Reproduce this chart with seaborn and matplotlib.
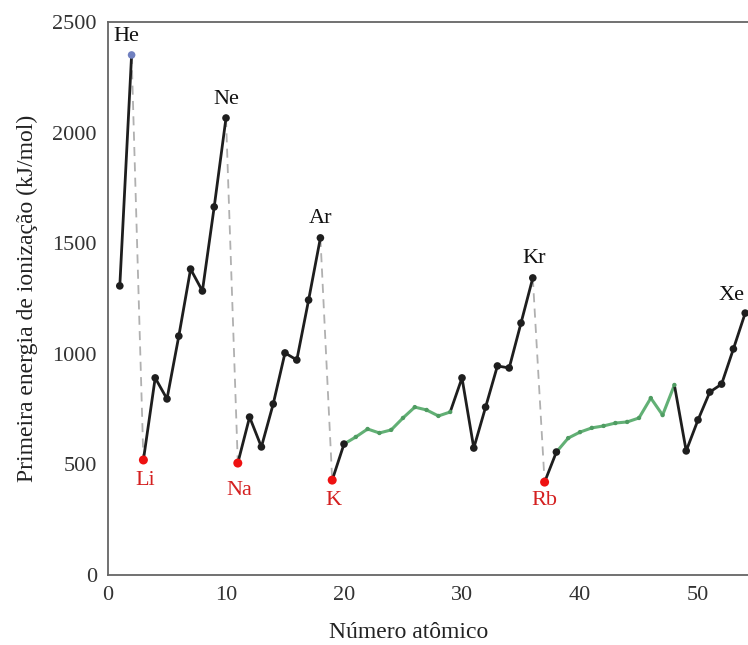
import matplotlib
matplotlib.use("Agg")
import matplotlib.pyplot as plt
import seaborn as sns
import pandas as pd

# ---------------- data ----------------
atomic_number = list(range(1, 55))
energy = [1307, 2351, 520, 891, 796, 1080, 1383, 1284, 1664, 2066,
          506, 714, 579, 773, 1004, 972, 1243, 1524, 429, 592,
          624, 660, 642, 656, 710, 759, 746, 719, 737, 891,
          574, 759, 945, 936, 1139, 1343, 420, 556, 619, 646,
          665, 674, 687, 692, 710, 800, 723, 859, 561, 701,
          827, 863, 1022, 1184]
noble_labels = {2: "He", 10: "Ne", 18: "Ar", 36: "Kr", 54: "Xe"}
alkali_labels = {3: "Li", 11: "Na", 19: "K", 37: "Rb"}
transition_Z = list(range(21, 30)) + list(range(39, 49))
x_ticks = [0, 10, 20, 30, 40, 50]
y_ticks = [0, 500, 1000, 1500, 2000, 2500]
x_label = "Número atômico"
y_label = "Primeira energia de ionização (kJ/mol)"

solid_ranges = [(1, 2), (3, 10), (11, 18), (19, 20), (29, 36), (37, 38), (48, 54)]
green_ranges = [(20, 29), (38, 48)]
dashed_ranges = [(2, 3), (10, 11), (18, 19), (36, 37)]

df = pd.DataFrame({"Z": atomic_number, "E": energy})

def kind(z):
    if z in alkali_labels:
        return "alkali"
    if z == 2:
        return "He"
    if z in transition_Z:
        return "trans"
    return "main"

df["kind"] = df["Z"].map(kind)

# ---------------- style ----------------
sns.set_theme(style="white")
plt.rcParams["font.family"] = ["Liberation Serif", "DejaVu Serif"]

fig = plt.figure(figsize=(7.48, 6.45), dpi=100)
ax = fig.add_axes([108 / 748, 1 - 575 / 645, 640 / 748, (575 - 22) / 645])

DARK = "#1e1e1e"
GREEN = "#62b075"
DASH = "#b0b0b0"

def seg(a, b):
    return df[(df["Z"] >= a) & (df["Z"] <= b)]

for a, b in dashed_ranges:
    l = sns.lineplot(data=seg(a, b), x="Z", y="E", color=DASH, lw=1.3,
                     estimator=None, sort=False, ax=ax, legend=False)
    l.lines[-1].set_dashes([5, 3.5])
for a, b in green_ranges:
    sns.lineplot(data=seg(a, b), x="Z", y="E", color=GREEN, lw=2.2,
                 estimator=None, sort=False, ax=ax, legend=False)
for a, b in solid_ranges:
    sns.lineplot(data=seg(a, b), x="Z", y="E", color=DARK, lw=2.0,
                 estimator=None, sort=False, ax=ax, legend=False)

palette = {"main": DARK, "trans": "#4f9c62", "alkali": "#ee1111", "He": "#7080c0"}
sizes = {"main": 30, "trans": 10, "alkali": 42, "He": 30}
sns.scatterplot(data=df, x="Z", y="E", hue="kind", palette=palette,
                size="kind", sizes=sizes, linewidth=0, ax=ax, legend=False,
                zorder=5)

# labels
noble_offsets = {2: (-4, 13), 10: (0, 13), 18: (0, 14), 36: (1, 14), 54: (-10, 13)}
for z, name in noble_labels.items():
    e = energy[atomic_number.index(z)]
    dx, dy = noble_offsets[z]
    ax.annotate(name, (z, e), xytext=(dx, dy), textcoords="offset points",
                ha="center", va="center", fontsize=16, color="#111111",
                annotation_clip=False)
alkali_offsets = {3: (1, -15), 11: (1, -20), 19: (1, -15), 37: (0, -13)}
for z, name in alkali_labels.items():
    e = energy[atomic_number.index(z)]
    dx, dy = alkali_offsets[z]
    ax.annotate(name, (z, e), xytext=(dx, dy), textcoords="offset points",
                ha="center", va="center", fontsize=16, color="#d42020")

ax.set_xlim(0, 640 / 11.8)
ax.set_ylim(0, 2500)
ax.set_xticks(x_ticks)
ax.set_yticks(y_ticks)
ax.tick_params(axis="both", length=0, labelsize=16, labelcolor="#333333", pad=8)
ax.set_xlabel(x_label, fontsize=17, color="#222222", labelpad=10)
ax.set_ylabel(y_label, fontsize=17, color="#222222", labelpad=10)
ax.xaxis.set_label_coords(0.469, -0.085)

for side in ["left", "bottom", "top"]:
    ax.spines[side].set_color("#666666")
    ax.spines[side].set_linewidth(1.3)
ax.spines["right"].set_visible(False)

fig.savefig("out.png", dpi=100)
